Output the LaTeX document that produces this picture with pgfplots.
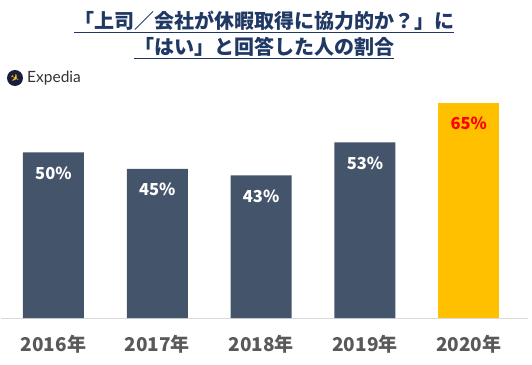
\documentclass[border=0pt]{standalone}
\usepackage{pgfplots}
\pgfplotsset{compat=1.18}
\usepackage{fontspec}
\setmainfont{Noto Sans CJK JP}
\newfontfamily\cjk{Noto Sans CJK JP}
\newfontfamily\sym{DejaVu Sans}
\newfontfamily\lato{Lato}
\definecolor{barblue}{HTML}{44546A}
\definecolor{baryellow}{HTML}{FFC000}
\definecolor{titleblue}{HTML}{203864}
\definecolor{ticktext}{HTML}{595959}
\definecolor{axisgray}{HTML}{D9D9D9}
\definecolor{expnavy}{HTML}{191E3B}
\definecolor{expyellow}{HTML}{FFC72C}
\begin{document}
\begin{tikzpicture}
\path[use as bounding box] (0pt,0pt) rectangle (532pt,364pt);
\node[align=center, text=titleblue, font=\cjk\bfseries\fontsize{20}{26}\selectfont, inner sep=0pt] at (264pt,329pt)
  {\underline{「上司／会社が休暇取得に協力的か？」に}\\\underline{「はい」と回答した人の割合}};
\fill[fill=expnavy] (15pt,286pt) circle (8pt);
\node[text=expyellow, font=\sym\fontsize{11}{11}\selectfont, inner sep=0pt, rotate=-30] at (15pt,286pt) {✈};
\node[anchor=west, text=black!80, font=\lato\fontsize{15.5}{15.5}\selectfont, inner sep=0pt] at (27pt,286pt) {Expedia};
\begin{axis}[
  at={(1.5pt,46pt)}, anchor=south west,
  width=526.5pt, height=232pt, scale only axis,
  xmin=-0.5, xmax=4.57, ymin=0, ymax=70,
  axis x line=bottom, axis y line=none,
  axis line style={axisgray, line width=1pt, -},
  xtick={0,1,2,3,4},
  xticklabels={2016年,2017年,2018年,2019年,2020年},
  major tick length=0pt,
  /pgf/number format/assume math mode=true,
  xticklabel style={font=\cjk\bfseries\fontsize{19}{19}\selectfont, text=ticktext, yshift=-14pt},
  ytick=\empty,
  clip=false,
  nodes near coords={\pgfmathprintnumber{\pgfplotspointmeta}\%},
  every node near coord/.append style={anchor=center, yshift=-21pt, font=\cjk\bfseries\fontsize{16.5}{16.5}\selectfont, text=white},
]
\addplot[ybar, bar width=61pt, fill=barblue, draw=none] coordinates {(0,50) (1,45) (2,43) (3,53)};
\addplot[ybar, bar width=61pt, fill=baryellow, draw=none, every node near coord/.append style={text=red}] coordinates {(4,65)};
\end{axis}
\end{tikzpicture}
\end{document}
